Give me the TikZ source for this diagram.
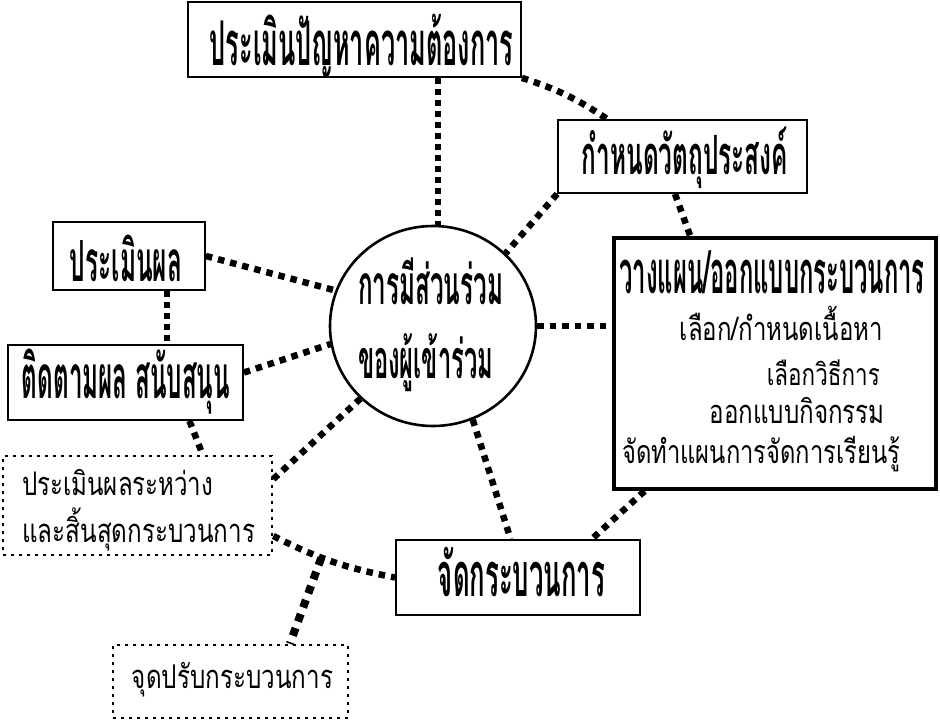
\documentclass[tikz,border=0pt]{standalone}
\usepackage{fontspec}
\usepackage{graphicx}
\newfontfamily\thaib[Script=Thai]{Loma}
\newfontfamily\thair[Script=Thai,FakeStretch=0.74]{Loma}
\usetikzlibrary{shapes.geometric,calc}
\newcommand{\fwb}[3]{\resizebox{#2pt}{!}{\thaib\bfseries\addfontfeatures{FakeStretch=#1}#3}}
\newcommand{\fwr}[2]{\resizebox{#1pt}{!}{\thair #2}}
\begin{document}
\begin{tikzpicture}[x=1pt,y=-1pt,
  box/.style={draw,line width=1.8pt,rectangle,inner sep=0pt},
  thickbox/.style={draw,line width=4pt,rectangle,inner sep=0pt},
  dotbox/.style={draw,line width=2.6pt,dash pattern=on 2.6pt off 5.4pt,rectangle,inner sep=0pt},
  txt/.style={inner sep=0pt,anchor=base},
  conn/.style={line width=6.5pt,dash pattern=on 6.5pt off 6pt},
  connv/.style={line width=6pt,dash pattern=on 6pt off 5pt},
  connbig/.style={line width=8pt,dash pattern=on 8pt off 7pt}]
\useasboundingbox (0,0) rectangle (940,721);
% boxes
\node[box,minimum width=333pt,minimum height=75pt] (top) at (354.5,39.5) {};
\node[box,minimum width=249pt,minimum height=73pt] (obj) at (682.5,156.5) {};
\node[thickbox,minimum width=322pt,minimum height=251pt] (plan) at (775,363.5) {};
\node[draw,line width=2.6pt,ellipse,minimum width=206pt,minimum height=200pt,inner sep=0pt] (c) at (433,326) {};
\node[box,minimum width=152pt,minimum height=68pt] (eval) at (129,256) {};
\node[box,minimum width=235pt,minimum height=75pt] (mon) at (125.5,382.5) {};
\node[dotbox,minimum width=269pt,minimum height=99pt] (ev2) at (137.5,505.5) {};
\node[box,minimum width=244pt,minimum height=75pt] (proc) at (518,577.5) {};
\node[dotbox,minimum width=235pt,minimum height=73pt] (jp) at (230.5,681.5) {};
% texts
\node[txt] (ttop) at (361.5,65) {\fwb{0.41}{303}{ประเมินปัญหาความต้องการ}};
\node[txt] (tobj) at (685,174) {\fwb{0.45}{206}{กำหนดวัตถุประสงค์}};
\node[txt] (tplan) at (772,293) {\fwb{0.40}{305}{วางแผน/ออกแบบกระบวนการ}};
\node[txt,anchor=base east] (tl1) at (883,340) {\fwr{203}{เลือก/กำหนดเนื้อหา}};
\node[txt,anchor=base east] (tl2) at (880,385) {\fwr{113}{เลือกวิธีการ}};
\node[txt,anchor=base east] (tl3) at (885,423) {\fwr{175}{ออกแบบกิจกรรม}};
\node[txt,anchor=base west] (tl4) at (622,463) {\fwr{278}{จัดทำแผนการจัดการเรียนรู้}};
\node[txt] (tc1) at (430.5,304) {\fwb{0.44}{145}{การมีส่วนร่วม}};
\node[txt] (tc2) at (425.5,378) {\fwb{0.44}{135}{ของผู้เข้าร่วม}};
\node[txt] (teval) at (126,281) {\fwb{0.43}{112}{ประเมินผล}};
\node[txt] (tmon) at (126,398) {\fwb{0.40}{208}{ติดตามผล สนับสนุน}};
\node[txt,anchor=base west] (tev2a) at (22,495) {\fwr{191}{ประเมินผลระหว่าง}};
\node[txt,anchor=base west] (tev2b) at (22,542) {\fwr{233}{และสิ้นสุดกระบวนการ}};
\node[txt] (tproc) at (521.5,596) {\fwb{0.42}{167}{จัดกระบวนการ}};
\node[txt] (tjp) at (232.5,688) {\fwr{201}{จุดปรับกระบวนการ}};
% connector end points
\coordinate (p1) at ($(top.south west)!0.75!(top.south east)$);
\coordinate (p2) at ($(obj.north west)!0.2!(obj.north east)$);
\coordinate (p3) at ($(obj.south west)!0.47!(obj.south east)$);
\coordinate (p4) at ($(plan.north west)!0.24!(plan.north east)$);
\coordinate (p5) at ($(proc.north west)!0.47!(proc.north east)$);
\coordinate (p6) at ($(plan.south west)!0.1!(plan.south east)$);
\coordinate (p7) at ($(proc.north west)!0.8!(proc.north east)$);
\coordinate (p8) at ($(mon.north east)!0.37!(mon.south east)$);
\coordinate (p9) at ($(ev2.north east)!0.24!(ev2.south east)$);
\coordinate (p10) at ($(mon.south west)!0.77!(mon.south east)$);
\coordinate (p11) at ($(ev2.north west)!0.74!(ev2.north east)$);
\coordinate (p12) at ($(eval.south west)!0.75!(eval.south east)$);
\coordinate (p13) at ($(ev2.north east)!0.8!(ev2.south east)$);
\coordinate (p14) at ($(jp.north west)!0.75!(jp.north east)$);
% connectors
\draw[connv] (p1) -- (p1 |- c.north);
\draw[conn] (top.south east) to[bend left=8] (p2);
\draw[conn] (obj.south west) -- (c.45);
\draw[conn] (p3) -- (p4);
\draw[conn] (c.east) -- (c.east -| plan.west);
\draw[conn] (c.-67) -- (p5);
\draw[conn] (p6) -- (p7);
\draw[conn] (eval.east) -- (c.160);
\draw[conn] (p8) -- (c.190);
\draw[conn] (p9) -- (c.225);
\draw[conn] (p10) -- (p11);
\draw[connv] (p12) -- (p12 |- mon.north);
\draw[conn] (p13) to[bend right=8] coordinate[pos=0.4] (jn) (proc.west);
\draw[connbig] (jn) -- (p14);
\end{tikzpicture}
\end{document}
